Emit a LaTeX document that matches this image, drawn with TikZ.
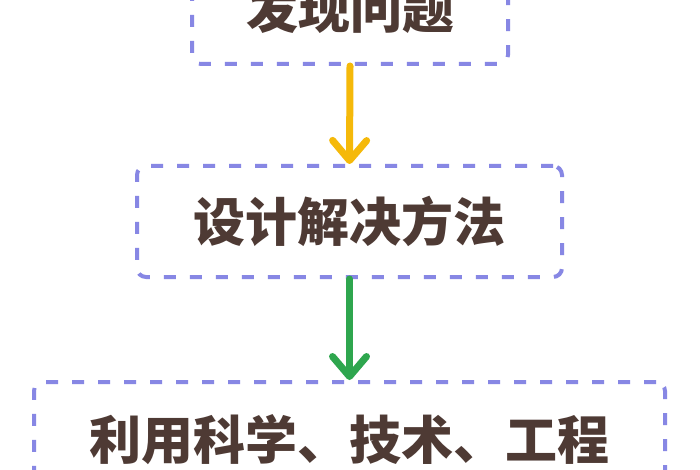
\documentclass[tikz,border=0pt]{standalone}
\usepackage{fontspec}
\newfontfamily\cjk{Noto Sans CJK SC}
\usetikzlibrary{arrows.meta}
\definecolor{dashc}{RGB}{135,135,228}
\definecolor{txtc}{RGB}{78,58,52}
\definecolor{yelc}{RGB}{245,185,10}
\definecolor{grnc}{RGB}{46,166,78}
\tikzset{
  stepbox/.style={draw=dashc, line width=4pt, dash pattern=on 12pt off 14pt,
    rounded corners=9pt, inner sep=0pt, text=txtc,
    font=\cjk\bfseries\fontsize{52}{56}\selectfont},
  flow/.style={line width=7pt, line cap=round,
    -{Straight Barb[length=20pt,width=34pt,round]}}
}
\begin{document}
\begin{tikzpicture}[x=1pt,y=-1pt]
\useasboundingbox (0,0) rectangle (700,470);
\fill[white] (0,0) rectangle (700,470);
\node[stepbox, minimum width=316pt, minimum height=110pt] (top) at (350,9) {发现问题};
\node[stepbox, minimum width=425pt, minimum height=111pt] (mid) at (349.5,221.5) {设计解决方法};
\node[stepbox, minimum width=631pt, minimum height=116pt] (bot) at (349.5,440) {利用科学、技术、工程};
\draw[flow, draw=yelc] (top.south) -- (mid.north);
\draw[flow, draw=grnc] (mid.south) -- (bot.north);
\end{tikzpicture}
\end{document}
